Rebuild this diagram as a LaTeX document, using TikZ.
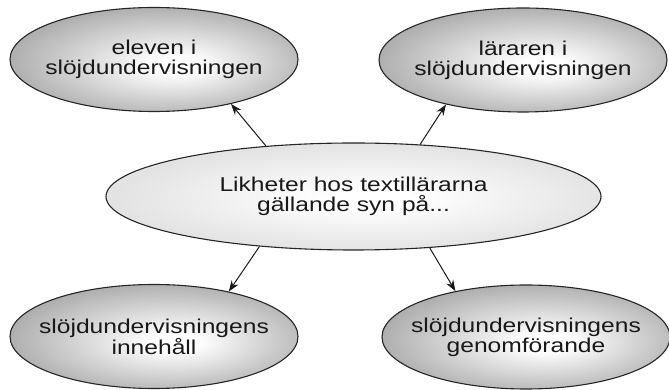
\documentclass[tikz,border=0pt]{standalone}
\usepackage{fontspec}
\setmainfont{Liberation Sans}[FakeStretch=1.23]
\usetikzlibrary{shapes.geometric,arrows.meta}

% shaded fills: bright spot a little right of and below the middle
\pgfdeclareradialshading{outershade}{\pgfpoint{4bp}{-3bp}}{%
  color(0bp)=(white); color(4bp)=(white); color(28bp)=(black!33); color(50bp)=(black!33)}
\pgfdeclareradialshading{innershade}{\pgfpoint{2bp}{-1bp}}{%
  color(0bp)=(white); color(4bp)=(white); color(25bp)=(black!11); color(50bp)=(black!11)}

\definecolor{ink}{gray}{0.1}

\begin{document}
\begin{tikzpicture}[x=1pt,y=1pt,
  bubble/.style={ellipse, draw=black!85, line width=1.1pt, inner xsep=-16pt, inner ysep=0pt,
    align=center, text=ink, font=\fontsize{20}{20}\selectfont},
  outerbubble/.style={bubble, shading=outershade, minimum width=288pt, minimum height=104pt},
  centerbubble/.style={bubble, shading=innershade, minimum width=495pt, minimum height=107pt},
  link/.style={draw=black!90, line width=1pt, -{Stealth[length=11pt,width=8pt]}}]

\useasboundingbox (0,0) rectangle (669,390);

\node[centerbubble] (c) at (353.5,193.5) {Likheter hos textillärarna\\gällande syn på...};

\node[outerbubble] (tl) at (154,330.5) {eleven i\\slöjdundervisningen};
\node[outerbubble] (tr) at (523,330) {läraren i\\slöjdundervisningen};
\node[outerbubble] (bl) at (154,53.5) {slöjdundervisningens\\innehåll};
\node[outerbubble] (br) at (526,53) {slöjdundervisningens\\genomförande};

\draw[link] (c.150.4) -- (tl.330.2);
\draw[link] (c.38.4) -- (tr.210.6);
\draw[link] (c.208.1) -- (bl.31.8);
\draw[link] (c.326.4) -- (br.147.8);
\end{tikzpicture}
\end{document}
